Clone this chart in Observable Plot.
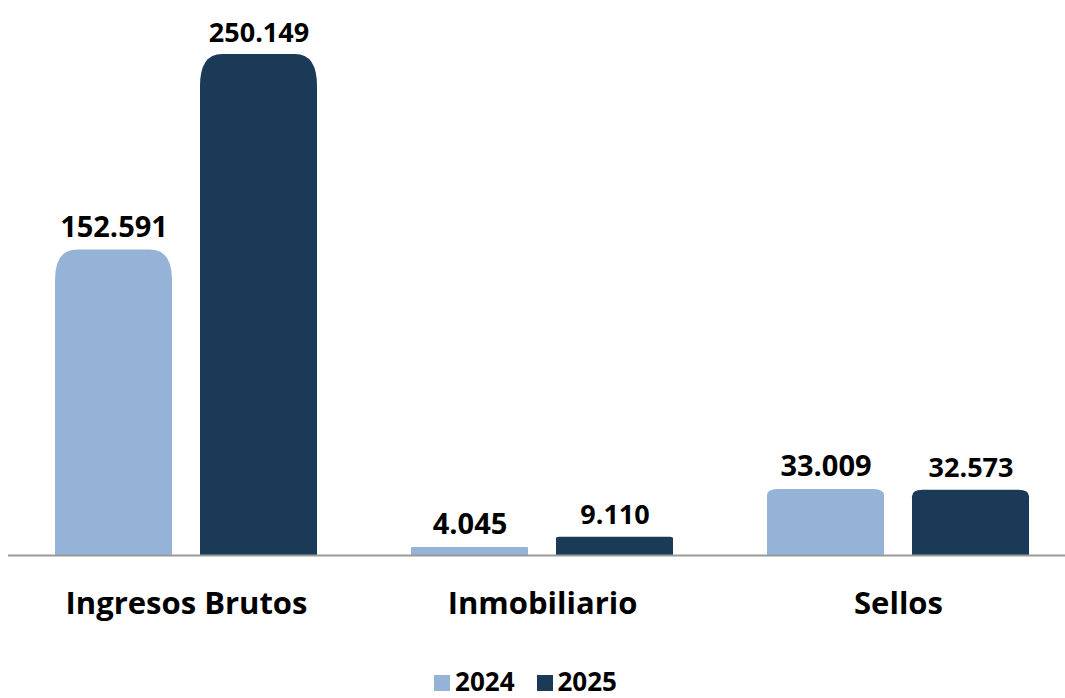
<!DOCTYPE html>
<html>
<head>
<meta charset="utf-8">
<script src="https://cdn.jsdelivr.net/npm/d3@7"></script>
<script src="https://cdn.jsdelivr.net/npm/@observablehq/plot@0.6"></script>
<style>
  body { margin: 0; background: #fff; font-family: "Open Sans", sans-serif; }
  #legend { display: flex; justify-content: center; gap: 22px; font-weight: 700; font-size: 26px; color: #000; height: 38px; align-items: center; padding-right: 14px; }
  #legend span.item { display: flex; align-items: center; gap: 5px; }
  #legend span.sw { width: 16px; height: 16px; display: inline-block; margin-top: 3px; }
</style>
</head>
<body>
<div id="chart"></div>
<div id="legend"></div>
<script>
const categories = ["Ingresos Brutos", "Inmobiliario", "Sellos"];
const years = ["2024", "2025"];
const values2024 = [152591, 4045, 33009];
const values2025 = [250149, 9110, 32573];
const labels2024 = ["152.591", "4.045", "33.009"];
const labels2025 = ["250.149", "9.110", "32.573"];
const colors = ["#95B3D7", "#1B3A57"];

const data = [];
categories.forEach((c, i) => {
  data.push({category: c, year: years[0], value: values2024[i], label: labels2024[i]});
  data.push({category: c, year: years[1], value: values2025[i], label: labels2025[i]});
});

const H = 662;
const chart = Plot.plot({
  width: 1065,
  height: H,
  marginTop: 54,
  marginBottom: H - 555,
  marginLeft: 8,
  marginRight: -11,
  style: {fontFamily: "'Open Sans', sans-serif", overflow: "hidden"},
  fx: {domain: categories, paddingInner: 0, paddingOuter: 0, label: null},
  x: {domain: years, paddingInner: 0.193, paddingOuter: 0.324, axis: null},
  y: {domain: [0, d3.max(values2025)], axis: null},
  color: {domain: years, range: colors},
  marks: [
    Plot.barY(data, {fx: "category", x: "year", y: "value", fill: "year", className: "rbar"}),
    Plot.text(data, {fx: "category", x: "year", y: "value", text: "label", lineAnchor: "bottom", dy: -13,
      fontSize: d => d.year === "2024" ? 29 : 27, fontWeight: 700, fill: "#000"}),
    Plot.ruleY([0], {stroke: "#9a9a9a", strokeWidth: 2}),
    Plot.axisFx({tickSize: 0, tickPadding: 36, fontSize: 31, fontWeight: 700, label: null, anchor: "bottom", fill: "#000"})
  ]
});

// round only the top corners of the bars
d3.select(chart).selectAll("g.rbar rect").each(function() {
  const r = d3.select(this);
  const x = +r.attr("x"), y = +r.attr("y"), w = +r.attr("width"), h = +r.attr("height");
  const rx = Math.min(22, h * 0.16), ry = Math.min(32, h * 0.1);
  const p = `M${x},${y + h}V${y + ry}Q${x},${y} ${x + rx},${y}H${x + w - rx}Q${x + w},${y} ${x + w},${y + ry}V${y + h}Z`;
  const path = d3.select(this.parentNode).insert("path", () => this)
    .attr("d", p).attr("fill", r.attr("fill"));
  const t = r.attr("transform"); if (t) path.attr("transform", t);
  r.remove();
});
d3.select(chart).selectAll("text").style("font-family", "'Open Sans', sans-serif");
document.getElementById("chart").appendChild(chart);

const legend = d3.select("#legend");
years.forEach((y, i) => {
  const it = legend.append("span").attr("class", "item");
  it.append("span").attr("class", "sw").style("background", colors[i]);
  it.append("span").text(y);
});
</script>
</body>
</html>
